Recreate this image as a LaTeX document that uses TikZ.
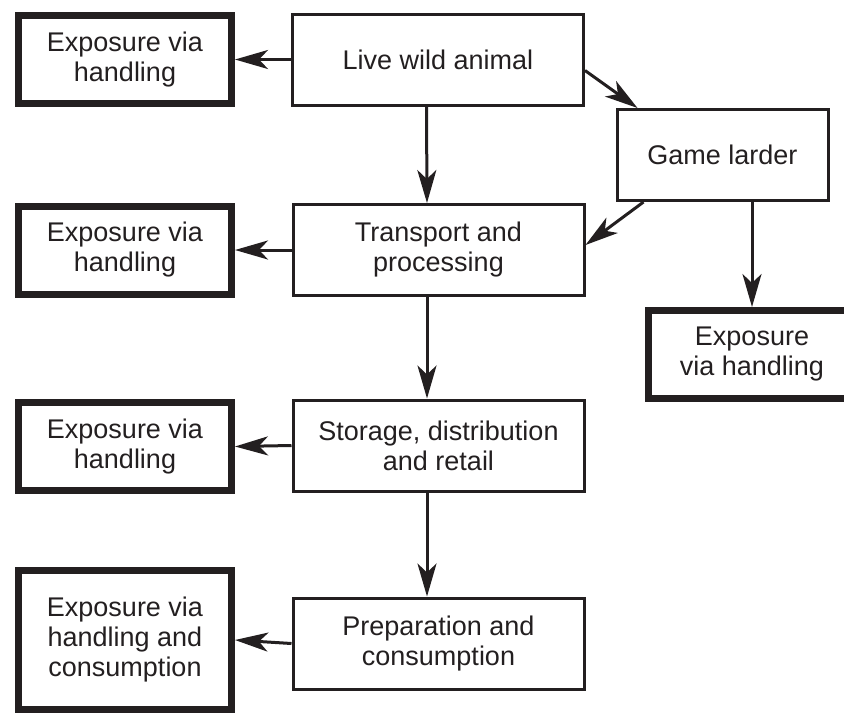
\documentclass[tikz,border=0pt]{standalone}
\usepackage{fontspec}
\setmainfont{Liberation Sans}
\usepackage{xcolor}
\definecolor{Ink}{RGB}{35,31,32}
\usetikzlibrary{arrows.meta}
\tikzstyle{Step}=[rectangle,draw=Ink,line width=3pt,align=center,
  minimum width=291pt,minimum height=91pt,inner sep=0pt,text=Ink,
  font=\fontsize{27}{30}\selectfont]
\tikzstyle{Expo}=[Step,line width=7pt,minimum width=213pt,
  minimum height=88pt]
\tikzstyle{Edge}=[draw=Ink,line width=3pt,
  -{Stealth[length=33pt,width=19pt,inset=9pt]}]

\begin{document}
\begin{tikzpicture}[x=1pt,y=-1pt]
    \clip (0,0) rectangle (844,716);
    % middle column
    \node[Step](live)at(438.0,59.5){Live wild animal};
    \node[Step](trans)at(438.5,250.0){Transport and\\processing};
    \node[Step](store)at(438.5,445.5){Storage, distribution\\and retail};
    \node[Step](prep)at(438.5,643.5){Preparation and\\consumption};
    % right branch
    \node[Step,minimum width=211pt](game)at(722.5,155.0){Game larder};
    \node[Expo,minimum width=207pt](expoR)at(752.0,354.5)
        {Exposure\\via handling};
    % exposures on the left
    \node[Expo](expo1)at(125.0,59.5){Exposure via\\handling};
    \node[Expo](expo2)at(125.0,250.0){Exposure via\\handling};
    \node[Expo](expo3)at(125.0,446.5){Exposure via\\handling};
    \node[Expo,minimum height=139pt](expo4)at(125.0,640.0)
        {Exposure via\\handling and\\consumption};
    \draw[Edge](live.west)--(expo1.east);
    \draw[Edge](trans.west)--(expo2.east);
    \draw[Edge](store.west)--(expo3.east);
    \draw[Edge](prep.west)--(expo4.east);
    \draw[Edge]([xshift=-11.5pt]live.south)--([xshift=-11.5pt]trans.north);
    \draw[Edge]([xshift=-11.5pt]trans.south)--([xshift=-11.5pt]store.north);
    \draw[Edge]([xshift=-11.5pt]store.south)--([xshift=-11.5pt]prep.north);
    \draw[Edge]([yshift=-11pt]live.east)--([xshift=22pt]game.north west);
    \draw[Edge]([xshift=28pt]game.south west)--([yshift=5pt]trans.east);
    \draw[Edge](game.south -| expoR.north)--(expoR.north);
\end{tikzpicture}
\end{document}
